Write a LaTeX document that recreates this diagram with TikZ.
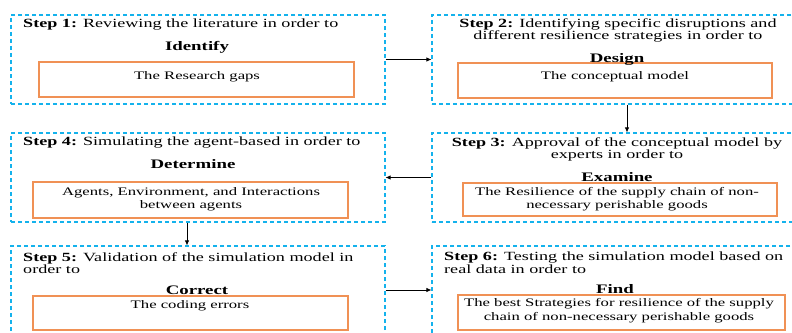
\documentclass[tikz,border=0pt]{standalone}
\usepackage{fontspec}
\setmainfont[FakeStretch=1.45]{Liberation Serif}
\usetikzlibrary{arrows.meta}
\definecolor{dashblue}{RGB}{20,178,236}
\definecolor{boxorange}{RGB}{240,145,85}
\begin{document}
\begin{tikzpicture}[x=1pt,y=-1pt,
  outerbox/.style={draw=dashblue, dash pattern=on 4pt off 3pt, line width=1.1pt, inner sep=0pt, minimum height=89pt},
  innerbox/.style={draw=boxorange, line width=1.2pt, inner sep=0pt},
  steptxt/.style={inner sep=0pt, font=\fontsize{12.5}{12.5}\selectfont},
  verbtxt/.style={inner sep=0pt, font=\fontsize{13}{13}\selectfont\bfseries},
  intxt/.style={inner sep=0pt, align=center, font=\fontsize{11.5}{13.5}\selectfont},
  arr/.style={draw=black, line width=0.8pt, -{Latex[length=5pt,width=4.5pt]}}
]
\useasboundingbox (0,0) rectangle (792,332);

% outer dashed boxes
\node[outerbox, minimum width=374pt] (s1) at (198,59.5) {};
\node[outerbox, minimum width=366pt] (s2) at (615,59.5) {};
\node[outerbox, minimum width=366pt] (s3) at (615,177.5) {};
\node[outerbox, minimum width=374pt] (s4) at (198,177.5) {};
\node[outerbox, minimum width=374pt, minimum height=95pt] (s5) at (198,293.5) {};
\node[outerbox, minimum width=366pt, minimum height=95pt] (s6) at (615,293.5) {};

% inner orange boxes
\node[innerbox, minimum width=315pt, minimum height=35pt] (i1) at (196.5,79.5) {};
\node[innerbox, minimum width=314pt, minimum height=35pt] (i2) at (615,80.5) {};
\node[innerbox, minimum width=314pt, minimum height=33pt] (i3) at (620,199.5) {};
\node[innerbox, minimum width=315pt, minimum height=36pt] (i4) at (190.5,200) {};
\node[innerbox, minimum width=315pt, minimum height=34pt] (i5) at (190.5,313) {};
\node[innerbox, minimum width=327pt, minimum height=35pt] (i6) at (621.5,312.5) {};

% step texts
\node[steptxt, anchor=west] (t1) at (23,25) {\textbf{Step 1:} Reviewing the literature in order to};
\node[steptxt, align=center] (t2) at (618,30.5) {\textbf{Step 2:} Identifying specific disruptions and\\different resilience strategies in order to};
\node[steptxt, align=center] (t3) at (617,149.5) {\textbf{Step 3:} Approval of the conceptual model by\\experts in order to};
\node[steptxt, anchor=west] (t4) at (23,143) {\textbf{Step 4:} Simulating the agent-based in order to};
\node[steptxt, anchor=west, align=left] (t5) at (23,263) {\textbf{Step 5:} Validation of the simulation model in\\order to};
\node[steptxt, anchor=west, align=left] (t6) at (444,262.5) {\textbf{Step 6:} Testing the simulation model based on\\real data in order to};

% verbs
\node[verbtxt] (v1) at (197,47) {Identify};
\node[verbtxt] (v2) at (617,59) {Design};
\node[verbtxt] (v3) at (617,177) {Examine};
\node[verbtxt] (v4) at (193,164.5) {Determine};
\node[verbtxt] (v5) at (197,290) {Correct};
\node[verbtxt] (v6) at (615,289.5) {Find};

% inner texts
\node[intxt] (n1) at (197,76.5) {The Research gaps};
\node[intxt] (n2) at (615,76.5) {The conceptual model};
\node[intxt] (n3) at (617,199) {The Resilience of the supply chain of non-\\necessary perishable goods};
\node[intxt] (n4) at (191,199) {Agents, Environment, and Interactions\\between agents};
\node[intxt] (n5) at (190,306) {The coding errors};
\node[intxt] (n6) at (619,310.5) {The best Strategies for resilience of the supply\\chain of non-necessary perishable goods};

% connectors
\draw[arr] (s1.east) -- (s2.west);
\draw[arr] ([xshift=12pt]s2.south) -- ([xshift=12pt]s3.north);
\draw[arr] (s3.west) -- (s4.east);
\draw[arr] ([xshift=-11pt]s4.south) -- ([xshift=-11pt]s5.north);
\draw[arr] ([yshift=3.5pt]s5.east) -- ([yshift=3.5pt]s5.east -| s6.west);
\end{tikzpicture}
\end{document}
